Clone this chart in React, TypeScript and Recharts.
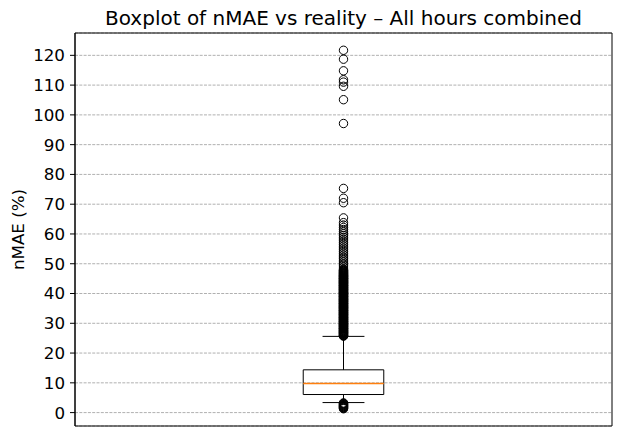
import React from 'react';
import {
    ComposedChart, Scatter, XAxis, YAxis, CartesianGrid, ReferenceArea, ReferenceLine,
} from 'recharts';

// box statistics (nMAE, %)
const boxPosition = 1;
const whiskerLow = 3.37;
const quartile1 = 6.07;
const median = 9.8;
const quartile3 = 14.37;
const whiskerHigh = 25.6;

const lowOutliers = [1.3, 1.45, 1.6, 1.75, 1.9, 2.05, 2.2, 2.35, 2.5, 2.65, 2.8, 2.95, 3.1, 3.25];

const highOutliers = [
    25.7, 25.9, 26.1, 26.4, 26.6, 26.9, 27.1, 27.3, 27.6, 27.8, 28.1, 28.3, 28.5, 28.8,
    29.0, 29.3, 29.5, 29.7, 30.0, 30.2, 30.5, 30.7, 30.9, 31.2, 31.4, 31.7, 31.9, 32.1,
    32.4, 32.6, 32.9, 33.1, 33.3, 33.6, 33.8, 34.1, 34.3, 34.5, 34.8, 35.0, 35.3, 35.5,
    35.7, 36.0, 36.2, 36.5, 36.7, 36.9, 37.2, 37.4, 37.7, 37.9, 38.1, 38.4, 38.6, 38.9,
    39.1, 39.3, 39.6, 39.8, 40.1, 40.3, 40.5, 40.8, 41.0, 41.3, 41.5, 41.7, 42.0, 42.2,
    42.5, 42.7, 42.9, 43.2, 43.4, 43.7, 43.9, 44.1, 44.4, 44.6, 44.9, 45.1, 45.3, 45.6,
    45.8, 46.1, 46.3, 46.6, 46.9, 47.2, 47.5, 47.8, 48.3, 48.9, 49.5, 50.0,
    50.6, 51.2, 51.8, 52.3, 52.9, 53.5, 54.1, 54.7, 55.3, 55.9, 56.5, 57.1, 57.7, 58.3,
    58.9, 59.5, 60.1, 60.8, 61.5, 62.2, 63.0, 63.8, 65.4, 70.5, 72.0, 75.3,
    97.1, 105.1, 109.6, 111.0, 111.8, 114.8, 118.7, 121.7,
];

// the crowded band between the upper whisker and ~48 holds many more points
const crowdedOutliers = [
    25.8, 26.0, 26.3, 26.5, 26.8, 27.0, 27.2, 27.5, 27.7, 28.0, 28.2, 28.4, 28.7, 28.9,
    29.2, 29.4, 29.6, 29.9, 30.1, 30.4, 30.6, 30.8, 31.1, 31.3, 31.6, 31.8, 32.0, 32.3,
    32.5, 32.8, 33.0, 33.2, 33.5, 33.7, 34.0, 34.2, 34.4, 34.7, 34.9, 35.2, 35.4, 35.6,
    35.9, 36.1, 36.4, 36.6, 36.8, 37.1, 37.3, 37.6, 37.8, 38.0, 38.3, 38.5, 38.8, 39.0,
    39.2, 39.5, 39.7, 40.0, 40.2, 40.4, 40.7, 40.9, 41.2, 41.4, 41.6, 41.9, 42.1, 42.4,
    42.6, 42.8, 43.1, 43.3, 43.6, 43.8, 44.0, 44.3, 44.5, 44.8, 45.0, 45.2, 45.5, 45.7,
    46.0, 46.2, 46.5, 46.8, 47.0, 47.4, 47.7, 48.0,
];

const yTicks = [0, 10, 20, 30, 40, 50, 60, 70, 80, 90, 100, 110, 120];
const yDomain = [-4.5, 127.5];
const xDomain = [0.5, 1.5];

const boxHalf = 0.075;
const capHalf = 0.039;

const font = '"DejaVu Sans", Verdana, sans-serif';

const outlierData = [...lowOutliers, ...highOutliers, ...crowdedOutliers].map((v) => ({ x: boxPosition, y: v }));

const Ring = (props: any) => (
    <circle cx={props.cx} cy={props.cy} r={4.2} fill="none" stroke="#000" strokeWidth={1} />
);

export default function App() {
    return (
        <div style={{ position: 'absolute', left: 0, top: 0, width: 623, height: 436, background: '#fff' }}>
            <div
                style={{
                    position: 'absolute', left: 75, top: 8, width: 537, textAlign: 'center',
                    fontFamily: font, fontSize: 20, lineHeight: '20px', color: '#000', whiteSpace: 'nowrap',
                }}
            >
                Boxplot of nMAE vs reality – All hours combined
            </div>
            <ComposedChart width={623} height={436} margin={{ top: 33, right: 11, bottom: 10, left: 0 }}>
                <CartesianGrid vertical={false} stroke="#b0b0b0" strokeDasharray="3 1.3" />
                <XAxis type="number" dataKey="x" domain={xDomain} allowDataOverflow hide />
                <YAxis
                    type="number"
                    dataKey="y"
                    domain={yDomain}
                    ticks={yTicks}
                    interval={0}
                    allowDataOverflow
                    width={75}
                    tickSize={5}
                    tickMargin={5}
                    axisLine={{ stroke: '#000' }}
                    tickLine={{ stroke: '#000' }}
                    tick={{ fill: '#000', fontSize: 16.7, fontFamily: font }}
                    label={{
                        value: 'nMAE (%)', angle: -90, position: 'insideLeft', offset: 18,
                        style: { textAnchor: 'middle', fill: '#000', fontSize: 16.7, fontFamily: font },
                    }}
                />
                {/* whiskers */}
                <ReferenceLine segment={[{ x: boxPosition, y: quartile3 }, { x: boxPosition, y: whiskerHigh }]} stroke="#000" />
                <ReferenceLine segment={[{ x: boxPosition, y: whiskerLow }, { x: boxPosition, y: quartile1 }]} stroke="#000" />
                <ReferenceLine segment={[{ x: boxPosition - capHalf, y: whiskerHigh }, { x: boxPosition + capHalf, y: whiskerHigh }]} stroke="#000" />
                <ReferenceLine segment={[{ x: boxPosition - capHalf, y: whiskerLow }, { x: boxPosition + capHalf, y: whiskerLow }]} stroke="#000" />
                {/* box + median */}
                <ReferenceArea
                    x1={boxPosition - boxHalf} x2={boxPosition + boxHalf} y1={quartile1} y2={quartile3}
                    fill="none" stroke="#000" strokeWidth={1}
                />
                <ReferenceLine
                    segment={[{ x: boxPosition - boxHalf, y: median }, { x: boxPosition + boxHalf, y: median }]}
                    stroke="#ff7f0e" strokeWidth={1.5}
                />
                <Scatter data={outlierData} shape={<Ring />} isAnimationActive={false} />
                {/* axes frame */}
                <ReferenceArea
                    x1={xDomain[0]} x2={xDomain[1]} y1={yDomain[0]} y2={yDomain[1]}
                    fill="none" stroke="#000" strokeWidth={1}
                />
            </ComposedChart>
        </div>
    );
}
